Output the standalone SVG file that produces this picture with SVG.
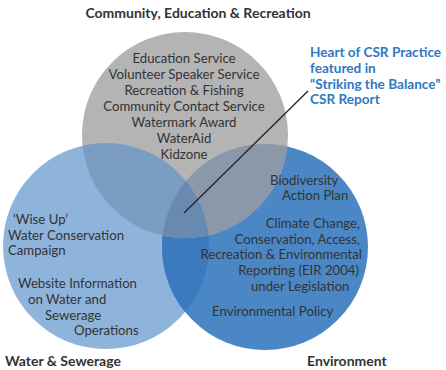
<svg xmlns="http://www.w3.org/2000/svg" width="446" height="370" viewBox="0 0 446 370">
<style>
.t{font-family:Lato,"Open Sans",sans-serif;font-size:13.2px;fill:#333333}
.h{font-family:Lato,"Open Sans",sans-serif;font-size:14px;font-weight:bold;fill:#333333}
.b{font-family:Lato,"Open Sans",sans-serif;font-size:13.6px;font-weight:bold;fill:#2f78c2}
</style>
<defs>
<clipPath id="cG"><circle cx="185" cy="135" r="103"/></clipPath>
<clipPath id="cL"><circle cx="106" cy="246" r="103"/></clipPath>
<clipPath id="cD"><circle cx="265" cy="247" r="103"/></clipPath>
</defs>
<g id="circles">
<circle id="water" cx="106" cy="246" r="103" fill="#8fb4dc"/>
<circle id="environment" cx="265" cy="247" r="103" fill="#4b87c5"/>
<circle id="community" cx="185" cy="135" r="103" fill="#b4b4b4"/>
<g clip-path="url(#cL)"><circle cx="265" cy="247" r="103" fill="#3b7abf"/></g>
<g clip-path="url(#cG)"><circle cx="106" cy="246" r="103" fill="#7b9dc2"/></g>
<g clip-path="url(#cG)"><circle cx="265" cy="247" r="103" fill="#8a98aa"/></g>
<g clip-path="url(#cG)"><g clip-path="url(#cL)"><circle cx="265" cy="247" r="103" fill="#6889b0"/></g></g>
</g>
<g id="connectors">
<line x1="308" y1="91" x2="184" y2="213" stroke="#222222" stroke-width="1.3"/>
</g>
<g id="community-text">
<text class="h" x="198" y="18" text-anchor="middle">Community, Education &amp; Recreation</text>
<text class="t" x="184" y="63" text-anchor="middle">Education Service</text>
<text class="t" x="184" y="79" text-anchor="middle">Volunteer Speaker Service</text>
<text class="t" x="184" y="95" text-anchor="middle">Recreation &amp; Fishing</text>
<text class="t" x="184" y="111" text-anchor="middle">Community Contact Service</text>
<text class="t" x="184" y="127" text-anchor="middle">Watermark Award</text>
<text class="t" x="184" y="143" text-anchor="middle">WaterAid</text>
<text class="t" x="184" y="159" text-anchor="middle">Kidzone</text>
</g>
<g id="heart-label">
<text class="b" x="310" y="57">Heart of CSR Practice</text>
<text class="b" x="310" y="73">featured in</text>
<text class="b" x="310" y="89">“Striking the Balance”</text>
<text class="b" x="310" y="104">CSR Report</text>
</g>
<g id="water-text">
<text class="t" x="13" y="224">‘Wise Up’</text>
<text class="t" x="8" y="240">Water Conservation</text>
<text class="t" x="8" y="255">Campaign</text>
<text class="t" x="18" y="288">Website Information</text>
<text class="t" x="28" y="304">on Water and</text>
<text class="t" x="45" y="320">Sewerage</text>
<text class="t" x="74" y="335">Operations</text>
<text class="h" x="5" y="366">Water &amp; Sewerage</text>
</g>
<g id="environment-text">
<text class="t" x="270" y="185">Biodiversity</text>
<text class="t" x="282" y="200">Action Plan</text>
<text class="t" x="360" y="228" text-anchor="end">Climate Change,</text>
<text class="t" x="360" y="244" text-anchor="end">Conservation, Access,</text>
<text class="t" x="362" y="259" text-anchor="end">Recreation &amp; Environmental</text>
<text class="t" x="359" y="275" text-anchor="end">Reporting (EIR 2004)</text>
<text class="t" x="251" y="291">under Legislation</text>
<text class="t" x="212" y="316">Environmental Policy</text>
<text class="h" x="307" y="366">Environment</text>
</g>
</svg>
